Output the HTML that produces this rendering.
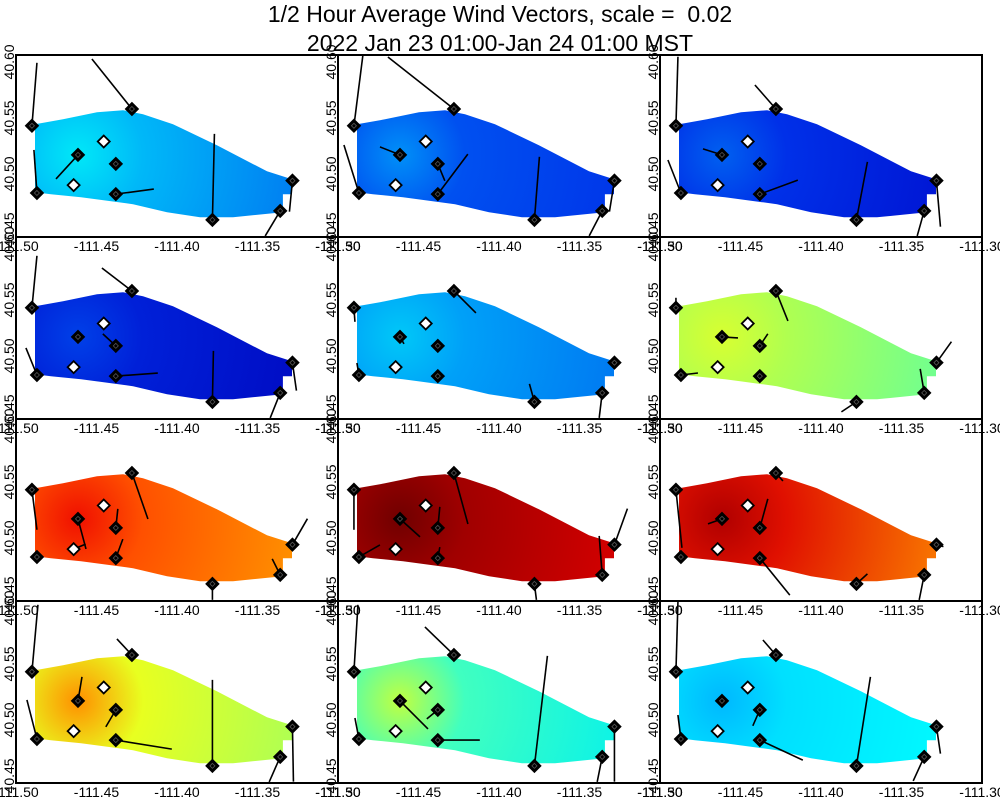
<!DOCTYPE html>
<html><head><meta charset="utf-8"><style>
body{margin:0;background:#fff;}
svg{display:block;font-family:"Liberation Sans",sans-serif;}
</style></head><body>
<svg id="chart" width="1000" height="800" viewBox="0 0 1000 800">
<text x="500" y="22" text-anchor="middle" font-size="23" xml:space="preserve" style="white-space:pre">1/2 Hour Average Wind Vectors, scale =  0.02</text>
<text x="500" y="51" text-anchor="middle" font-size="23">2022 Jan 23 01:00-Jan 24 01:00 MST</text>
<g id="panels"></g>
</svg>
<script>
// station locations (lon, lat)
const stationLon = [-111.4901,-111.4870,-111.4280,-111.4615,-111.4455,-111.4380,-111.4642,-111.4380,-111.3780,-111.3359,-111.3283];
const stationLat = [40.5430,40.4830,40.5580,40.5170,40.5290,40.5090,40.4900,40.4820,40.4590,40.4670,40.4940];
const stationOpen = [0,0,0,0,1,0,1,0,0,0,0];
const xTicks = [-111.50,-111.45,-111.40,-111.35,-111.30];
const xTickLabels = ["-111.50","-111.45","-111.40","-111.35","-111.30"];
const yTicks = [40.45,40.50,40.55,40.60];
const yTickLabels = ["40.45","40.50","40.55","40.60"];
// wind vector components per panel (u east, v north), per station; null = none
const windU = [
 [0.5,-0.3,-4.0,-2.2,null,null,null,3.8,0.2,-1.5,-0.3],
 [0.9,-1.5,-6.6,-2.0,null,0.7,null,3.0,0.5,-1.3,-0.5],
 [0.2,-1.3,-2.1,-1.9,null,null,null,3.8,1.1,-0.7,0.4],
 [0.5,-1.1,-3.0,null,null,-1.3,null,4.2,0.1,-1.0,0.4],
 [0.1,-0.2,2.2,0.4,null,null,null,null,-0.5,-0.3,null],
 [0.0,1.7,1.2,1.6,null,0.8,null,null,-1.5,-0.4,1.5],
 [0.5,null,1.6,0.8,null,0.2,1.2,0.7,0.0,-0.8,1.5],
 [0.0,2.1,1.4,2.0,null,0.2,null,0.2,0.2,-0.3,1.3],
 [0.6,null,0.7,-1.4,null,0.8,null,3.0,1.1,-0.5,0.7],
 [0.6,-1.0,-1.5,0.4,null,-1.0,null,5.6,0.0,-1.1,0.1],
 [0.4,-0.4,-2.9,2.8,null,-1.1,null,4.2,1.3,-0.5,0.0],
 [0.2,-0.3,-1.3,null,null,-0.7,null,4.3,1.4,-1.1,0.4]
];
const windV = [
 [6.3,4.3,5.0,-2.4,null,null,null,0.5,8.6,-2.5,-3.1],
 [7.1,4.8,5.2,0.8,null,-1.7,null,4.0,6.3,-2.5,-3.1],
 [6.9,3.3,2.4,0.6,null,null,null,1.4,5.8,-2.5,-4.6],
 [5.2,2.7,2.3,null,null,1.2,null,0.3,5.1,-2.5,-2.8],
 [-1.4,1.2,-2.2,-0.7,null,null,null,null,1.8,-2.5,null],
 [1.0,0.2,-3.0,-0.1,null,1.2,null,null,-1.0,2.4,2.1],
 [-4.0,null,-4.6,-3.0,null,1.9,0.5,1.9,-1.6,1.6,2.6],
 [-4.0,1.2,-5.1,-1.8,null,2.1,null,1.1,-1.6,3.9,3.6],
 [-5.8,null,-0.8,-0.5,null,2.9,null,-3.7,1.0,-2.5,-0.2],
 [6.7,3.9,1.6,2.4,null,-1.7,null,-0.9,8.6,-2.5,-5.5],
 [6.7,2.1,2.8,-2.8,null,-0.9,null,0.0,11.0,-2.5,-5.5],
 [7.0,2.4,1.5,null,null,-1.6,null,-2.0,8.9,-2.4,-2.7]
];
// colors per panel: spot, body, edge
const spotColor = ["#00e8f8","#0090f8","#0060f0","#0040e8","#00c8f8","#d8ff30","#f01000","#700000","#b00000","#ff9000","#c0ff40","#00b8ff"];
const bodyColor = ["#00b8f8","#0050f0","#0030e8","#0020d8","#00a0f8","#b0ff50","#ff5000","#a00000","#e01000","#e8ff20","#40ffc0","#00e0ff"];
const edgeColor = ["#0070f0","#0030e8","#0010d0","#0008c0","#0070f0","#60ffa0","#ffa000","#e00000","#ff9000","#a0ff60","#00f0f0","#00ffff"];
// domain outline (lon, lat)
const domLon = [-111.4882,-111.4708,-111.4497,-111.4335,-111.4211,-111.4025,-111.3752,-111.3441,-111.3286,-111.3286,-111.3342,-111.3342,-111.3652,-111.3857,-111.4062,-111.4273,-111.4596,-111.4783,-111.4882];
const domLat = [40.5444,40.5488,40.5551,40.5569,40.5533,40.5444,40.5256,40.5024,40.4953,40.4819,40.4819,40.4658,40.4613,40.4613,40.4658,40.4730,40.4792,40.4819,40.4837];

const NS="http://www.w3.org/2000/svg";
const W=322,H=182,LON0=-111.50,LON1=-111.30,LAT0=40.4437,LAT1=40.6062,VS=10;
function mk(t,a,p){const e=document.createElementNS(NS,t);for(const k in a)e.setAttribute(k,a[k]);p.appendChild(e);return e;}
const root=document.getElementById('panels');
const defs=mk('defs',{},root);
for(let p=0;p<12;p++){
  const col=p%3,row=Math.floor(p/3);
  const ox=16+col*322, oy=55+row*182;
  const xs=lon=>ox+(lon-LON0)/(LON1-LON0)*W;
  const ys=lat=>oy+(LAT1-lat)/(LAT1-LAT0)*H;
  const cp=mk('clipPath',{id:'clip'+p},defs);
  mk('rect',{x:ox,y:oy,width:W,height:H},cp);
  const gr=mk('radialGradient',{id:'grad'+p,gradientUnits:'userSpaceOnUse',cx:xs(stationLon[3]),cy:ys(stationLat[3]),r:260},defs);
  mk('stop',{offset:'0','stop-color':spotColor[p]},gr);
  mk('stop',{offset:'0.25','stop-color':bodyColor[p]},gr);
  mk('stop',{offset:'1','stop-color':edgeColor[p]},gr);
  const g=mk('g',{},root);
  
  
  const inner=mk('g',{'clip-path':'url(#clip'+p+')'},g);
  const pts=domLon.map((l,i)=>xs(l).toFixed(1)+','+ys(domLat[i]).toFixed(1)).join(' ');
  const poly=mk('polygon',{points:pts,fill:'url(#grad'+p+')'},inner);
  
  
  for(let s=0;s<stationLon.length;s++){
    const u=windU[p][s],v=windV[p][s];
    const x=xs(stationLon[s]),y=ys(stationLat[s]);
    if(u!==null){
      const ln=mk('line',{x1:x,y1:y,x2:x+u*VS,y2:y-v*VS,stroke:'#000','stroke-width':1.6},inner);
      
      
    }
  }
  for(let s=0;s<stationLon.length;s++){
    const x=xs(stationLon[s]),y=ys(stationLat[s]);
    const d=6;
    const dm=mk('polygon',{points:`${x},${y-d} ${x+d},${y} ${x},${y+d} ${x-d},${y}`,fill:stationOpen[s]?'#fff':'#000',stroke:'#000','stroke-width':1.8},inner);
    
    
    if(!stationOpen[s]) mk('polygon',{points:`${x},${y-2.5} ${x+2.5},${y} ${x},${y+2.5} ${x-2.5},${y}`,fill:'none',stroke:'#555','stroke-width':0.8},inner);
  }
  const fr=mk('rect',{x:ox,y:oy,width:W,height:H,fill:'none',stroke:'#000','stroke-width':2},g);
  
  
  xTicks.forEach((t,i)=>{
    const tx=mk('text',{x:xs(t),y:oy+H+14,'text-anchor':'middle','font-size':14},g);
    tx.textContent=xTickLabels[i];
    
    
  });
  yTicks.forEach((t,i)=>{
    const x=ox-2,y=ys(t);
    const tx=mk('text',{x:x,y:y,'text-anchor':'middle','font-size':14,transform:`rotate(-90 ${x} ${y})`},g);
    tx.textContent=yTickLabels[i];
    
    
  });
}
</script>
</body></html>
